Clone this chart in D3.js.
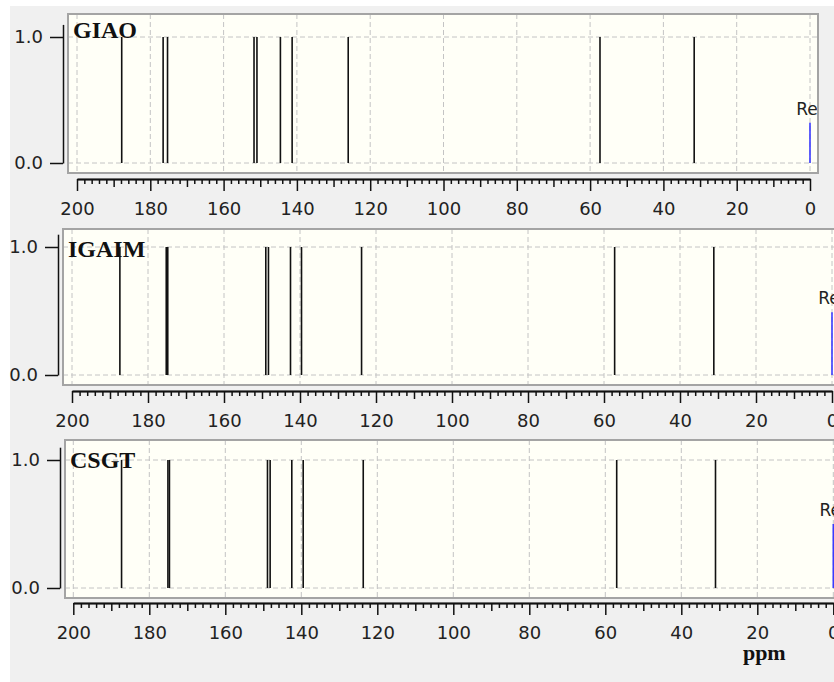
<!DOCTYPE html>
<html>
<head>
<meta charset="utf-8">
<script src="https://cdn.jsdelivr.net/npm/d3@7"></script>
<style>
  body { margin: 0; background: #fff; }
  svg { display: block; }
</style>
</head>
<body>
<svg width="834" height="682"></svg>
<script>
// calculated 13C shifts (ppm), one stick per carbon
const methods = ['GIAO', 'IGAIM', 'CSGT'];
const giaoShifts = [187.8, 176.5, 175.3, 151.7, 150.9, 144.5, 141.3, 126.0, 57.3, 31.6];
const igaimShifts = [187.4, 175.2, 174.8, 149.0, 148.3, 142.5, 139.6, 123.8, 57.2, 31.1];
const csgtShifts = [187.3, 175.1, 174.7, 148.9, 148.2, 142.5, 139.5, 123.7, 57.0, 31.0];
const giaoHeights = [1, 1, 1, 1, 1, 1, 1, 1, 1, 1];
const igaimHeights = [1, 1, 1, 1, 1, 1, 1, 1, 1, 1];
const csgtHeights = [1, 1, 1, 1, 1, 1, 1, 1, 1, 1];
// reference (TMS) stick
const refShifts = [0, 0, 0];
const refHeights = [0.32, 0.49, 0.5];
const refLabel = 'Ref';
const xTicks = [200, 180, 160, 140, 120, 100, 80, 60, 40, 20, 0];
const yTicks = [0.0, 1.0];
const xTitle = 'ppm';

const shifts = [giaoShifts, igaimShifts, csgtShifts];
const heights = [giaoHeights, igaimHeights, csgtHeights];

// each panel was cut from a separate window, so geometry differs a bit
const panels = [
  {left: 68, top: 14, right: 818, bottom: 173, axisX: 63, y0: 163, y1: 37, axisY: 179, x200: 77, x0: 810, labelY: 38},
  {left: 63, top: 229, right: 856, bottom: 385, axisX: 58, y0: 375, y1: 247, axisY: 391, x200: 72, x0: 832, labelY: 257},
  {left: 65, top: 440, right: 856, bottom: 598, axisX: 60, y0: 588, y1: 460, axisY: 603, x200: 73.3, x0: 833.3, labelY: 468},
];

const svg = d3.select('svg');
svg.append('rect')
  .attr('x', 10).attr('y', 6)
  .attr('width', 824).attr('height', 676)
  .attr('fill', '#f0f0f0');

const tickFont = '"DejaVu Sans", sans-serif';
const serif = '"Liberation Serif", "Times New Roman", serif';

panels.forEach((p, i) => {
  const x = d3.scaleLinear().domain([200, 0]).range([p.x200, p.x0]);
  const y = d3.scaleLinear().domain([0, 1]).range([p.y0, p.y1]);
  const g = svg.append('g');

  const clipId = `clip-${i}`;
  g.append('clipPath').attr('id', clipId)
    .append('rect')
    .attr('x', p.left).attr('y', p.top)
    .attr('width', p.right - p.left).attr('height', p.bottom - p.top);

  // plot area
  g.append('rect')
    .attr('x', p.left).attr('y', p.top)
    .attr('width', p.right - p.left).attr('height', p.bottom - p.top)
    .attr('fill', '#fffff7');

  const plot = g.append('g').attr('clip-path', `url(#${clipId})`);

  // dashed grid
  plot.selectAll('.vgrid')
    .data(xTicks)
    .enter()
    .append('line')
    .attr('class', 'vgrid')
    .attr('x1', d => x(d)).attr('x2', d => x(d))
    .attr('y1', p.top).attr('y2', p.bottom)
    .attr('stroke', '#c4c4c4')
    .attr('stroke-dasharray', '5,3');
  plot.selectAll('.hgrid')
    .data(yTicks)
    .enter()
    .append('line')
    .attr('class', 'hgrid')
    .attr('x1', p.left).attr('x2', p.right)
    .attr('y1', d => y(d)).attr('y2', d => y(d))
    .attr('stroke', '#c4c4c4')
    .attr('stroke-dasharray', '5,3');

  // sticks
  const sticks = shifts[i].map((s, k) => ({s: s, h: heights[i][k]}));
  plot.selectAll('.stick')
    .data(sticks)
    .enter()
    .append('line')
    .attr('class', 'stick')
    .attr('x1', d => x(d.s)).attr('x2', d => x(d.s))
    .attr('y1', y(0)).attr('y2', d => y(d.h))
    .attr('stroke', '#111')
    .attr('stroke-width', 1.6);

  // reference stick + label
  plot.append('line')
    .attr('x1', x(refShifts[i])).attr('x2', x(refShifts[i]))
    .attr('y1', y(0)).attr('y2', y(refHeights[i]))
    .attr('stroke', '#3a3aff')
    .attr('stroke-width', 1.6);
  plot.append('text')
    .attr('x', x(refShifts[i]))
    .attr('y', y(refHeights[i]) - 8)
    .attr('text-anchor', 'middle')
    .attr('font-family', tickFont)
    .attr('font-size', 17)
    .attr('fill', '#222')
    .text(refLabel);

  // method label
  plot.append('text')
    .attr('x', p.left + 5)
    .attr('y', p.labelY)
    .attr('font-family', serif)
    .attr('font-weight', 'bold')
    .attr('font-size', 24)
    .attr('fill', '#111')
    .text(methods[i]);

  // plot border
  g.append('rect')
    .attr('x', p.left).attr('y', p.top)
    .attr('width', p.right - p.left).attr('height', p.bottom - p.top)
    .attr('fill', 'none')
    .attr('stroke', '#a4a4a4')
    .attr('stroke-width', 2);

  // y axis, line runs a little past 1.0
  const yAx = d3.scaleLinear().domain([0, 1.1]).range([y(0), y(1.1)]);
  const yAxis = g.append('g')
    .attr('transform', `translate(${p.axisX},0)`)
    .call(d3.axisLeft(yAx)
      .tickValues(yTicks)
      .tickFormat(d3.format('.1f'))
      .tickSize(13)
      .tickSizeOuter(0)
      .tickPadding(7));

  // x axis: major, mid and minor ticks
  const xMinor = d3.range(0, 201, 2).filter(v => v % 10 !== 0);
  const xMid = d3.range(10, 200, 20);
  const xAxis = g.append('g')
    .attr('transform', `translate(0,${p.axisY})`)
    .call(d3.axisBottom(x)
      .tickValues(xTicks)
      .tickFormat(d3.format('d'))
      .tickSize(12)
      .tickSizeOuter(0)
      .tickPadding(11));
  g.append('g')
    .attr('transform', `translate(0,${p.axisY})`)
    .call(d3.axisBottom(x).tickValues(xMinor).tickSize(5).tickFormat('').tickSizeOuter(0));
  g.append('g')
    .attr('transform', `translate(0,${p.axisY})`)
    .call(d3.axisBottom(x).tickValues(xMid).tickSize(8).tickFormat('').tickSizeOuter(0));

  [yAxis, xAxis].forEach(a => {
    a.selectAll('text')
      .attr('font-family', tickFont)
      .attr('font-size', 18)
      .attr('fill', '#222');
  });
  g.selectAll('.domain, .tick line')
    .attr('stroke', '#111')
    .attr('stroke-width', 1.5);
});

// x title under the last panel
const last = panels[2];
const xLast = d3.scaleLinear().domain([200, 0]).range([last.x200, last.x0]);
svg.append('text')
  .attr('x', xLast(20) + 7)
  .attr('y', 660)
  .attr('text-anchor', 'middle')
  .attr('font-family', serif)
  .attr('font-weight', 'bold')
  .attr('font-size', 22)
  .attr('fill', '#111')
  .text(xTitle);
</script>
</body>
</html>
